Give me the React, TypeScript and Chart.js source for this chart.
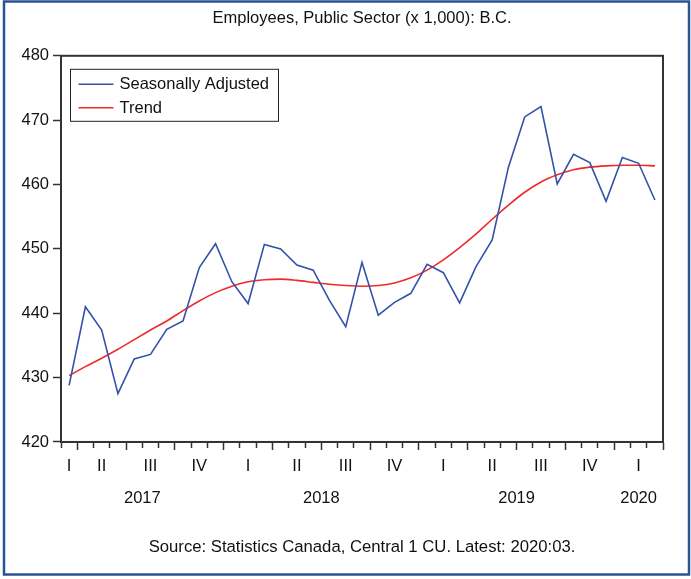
import React, { useEffect, useRef } from 'react';
import { Chart, registerables } from 'chart.js';

Chart.register(...registerables);

const FONT = "'Liberation Sans', Arial, sans-serif";

const months = [
  '2017-03', '2017-04', '2017-05', '2017-06', '2017-07', '2017-08', '2017-09', '2017-10', '2017-11', '2017-12',
  '2018-01', '2018-02', '2018-03', '2018-04', '2018-05', '2018-06', '2018-07', '2018-08', '2018-09', '2018-10', '2018-11', '2018-12',
  '2019-01', '2019-02', '2019-03', '2019-04', '2019-05', '2019-06', '2019-07', '2019-08', '2019-09', '2019-10', '2019-11', '2019-12',
  '2020-01', '2020-02', '2020-03',
];

const seasonallyAdjusted = [
  428.8, 441.0, 437.4, 427.5, 432.9, 433.6, 437.5, 438.8, 447.1, 450.8,
  444.9, 441.5, 450.7, 450.0, 447.5, 446.7, 442.0, 437.9, 447.9, 439.7, 441.7, 443.1,
  447.6, 446.3, 441.6, 447.2, 451.4, 462.7, 470.5, 472.1, 460.1, 464.7, 463.4, 457.4,
  464.2, 463.3, 457.6,
];

const trend = [
  430.3, 431.7, 433.0, 434.4, 435.9, 437.4, 438.8, 440.4, 441.9, 443.2,
  444.2, 444.9, 445.2, 445.3, 445.1, 444.8, 444.5, 444.3, 444.2, 444.3, 444.7, 445.5,
  446.7, 448.3, 450.2, 452.3, 454.6, 456.8, 458.8, 460.4, 461.5, 462.3, 462.7, 462.9,
  463.0, 463.0, 462.9,
];

const yTickValues = [420, 430, 440, 450, 460, 470, 480];
const quarterNames = ['I', 'II', 'III', 'IV'];
const seriesNames = ['Seasonally Adjusted', 'Trend'];
const seriesColors = ['#3352a8', '#f02a2a'];
const titleText = 'Employees, Public Sector (x 1,000): B.C.';
const sourceText = 'Source: Statistics Canada, Central 1 CU. Latest: 2020:03.';

const monthNum = (m: string) => parseInt(m.slice(5), 10);
const yearOf = (m: string) => m.slice(0, 4);
const quarterOf = (m: string) => Math.floor((monthNum(m) - 1) / 3);
const isQuarterStart = (mn: number) => mn === 1 || mn === 4 || mn === 7 || mn === 10;

function groupCenters(keyFn: (m: string) => string, labelFn: (m: string) => string) {
  const order: string[] = [];
  const groups: Record<string, { label: string; sum: number; count: number }> = {};
  months.forEach((m, i) => {
    const k = keyFn(m);
    if (!groups[k]) {
      groups[k] = { label: labelFn(m), sum: 0, count: 0 };
      order.push(k);
    }
    groups[k].sum += i;
    groups[k].count += 1;
  });
  return order.map((k) => ({ value: groups[k].sum / groups[k].count, label: groups[k].label }));
}

const quarterMarks = groupCenters((m) => yearOf(m) + 'Q' + quarterOf(m), (m) => quarterNames[quarterOf(m)]);
const yearMarks = groupCenters(yearOf, yearOf);
const boundaryMarks = [
  ...months.map((m, i) => ({ value: i - 0.5, long: isQuarterStart(monthNum(m)) })),
  { value: months.length - 0.5, long: isQuarterStart((monthNum(months[months.length - 1]) % 12) + 1) },
];
const isLongBoundary = (v: number) => boundaryMarks.some((b) => Math.abs(b.value - v) < 1e-6 && b.long);

const backgroundPlugin = {
  id: 'bgFrame',
  beforeDraw(chart: any) {
    const { ctx, width, height } = chart;
    ctx.save();
    ctx.fillStyle = '#ffffff';
    ctx.fillRect(0, 0, width, height);
    ctx.strokeStyle = '#2a5593';
    ctx.lineWidth = 2.5;
    ctx.strokeRect(4, 1.5, width - 6, height - 6);
    ctx.restore();
  },
};

const plotFramePlugin = {
  id: 'plotFrame',
  afterDraw(chart: any) {
    const { ctx, chartArea } = chart;
    ctx.save();
    ctx.strokeStyle = '#333333';
    ctx.lineWidth = 2;
    ctx.strokeRect(chartArea.left, chartArea.top, chartArea.right - chartArea.left, chartArea.bottom - chartArea.top);
    ctx.restore();
  },
};

const insideLegendPlugin = {
  id: 'insideLegend',
  afterDraw(chart: any) {
    const { ctx, chartArea } = chart;
    const x0 = chartArea.left + 9.5;
    const y0 = chartArea.top + 13.5;
    ctx.save();
    ctx.fillStyle = '#ffffff';
    ctx.fillRect(x0, y0, 208, 52);
    ctx.strokeStyle = '#222222';
    ctx.lineWidth = 1;
    ctx.strokeRect(x0, y0, 208, 52);
    chart.data.datasets.forEach((ds: any, i: number) => {
      const ly = y0 + 15 + i * 23.4;
      ctx.strokeStyle = ds.borderColor;
      ctx.lineWidth = 1.5;
      ctx.beginPath();
      ctx.moveTo(x0 + 8, ly);
      ctx.lineTo(x0 + 43, ly);
      ctx.stroke();
      ctx.fillStyle = '#111111';
      ctx.font = `16.5px ${FONT}`;
      ctx.textBaseline = 'middle';
      ctx.textAlign = 'left';
      ctx.fillText(ds.label, x0 + 49, ly + 0.5);
    });
    ctx.restore();
  },
};

export default function App() {
  const canvasRef = useRef<HTMLCanvasElement | null>(null);

  useEffect(() => {
    if (!canvasRef.current) return;
    const n = months.length;
    const tickFont = { family: FONT, size: 16.5 };
    const chart = new Chart(canvasRef.current, {
      type: 'line',
      data: {
        datasets: [
          {
            label: seriesNames[0],
            data: seasonallyAdjusted.map((v, i) => ({ x: i, y: v })),
            borderColor: seriesColors[0],
            borderWidth: 1.6,
            pointRadius: 0,
            tension: 0,
            xAxisID: 'x',
            yAxisID: 'y',
          },
          {
            label: seriesNames[1],
            data: trend.map((v, i) => ({ x: i, y: v })),
            borderColor: seriesColors[1],
            borderWidth: 1.6,
            pointRadius: 0,
            cubicInterpolationMode: 'monotone',
            xAxisID: 'x',
            yAxisID: 'y',
          },
        ],
      },
      options: {
        animation: false,
        responsive: false,
        maintainAspectRatio: false,
        events: [],
        layout: { padding: { left: 6, right: 28, top: 2, bottom: 8 } },
        plugins: {
          legend: { display: false },
          tooltip: { enabled: false },
          title: {
            display: true,
            text: titleText,
            fullSize: false,
            color: '#111111',
            font: { family: FONT, size: 16.5, weight: 'normal' },
            padding: { top: 7, bottom: 27 },
          },
          subtitle: {
            display: true,
            position: 'bottom',
            text: sourceText,
            fullSize: false,
            color: '#111111',
            font: { family: FONT, size: 16.7, weight: 'normal' },
            padding: { top: 31, bottom: 14 },
          },
        },
        scales: {
          x: {
            type: 'linear',
            position: 'bottom',
            bounds: 'data',
            min: -0.5,
            max: n - 0.5,
            weight: 0,
            afterBuildTicks: (s: any) => {
              s.ticks = boundaryMarks.map((b) => ({ value: b.value }));
            },
            afterFit: (s: any) => {
              s.height = 8;
            },
            ticks: { display: false },
            grid: {
              drawOnChartArea: false,
              drawTicks: true,
              tickLength: 8,
              tickColor: '#333333',
              tickWidth: 1.5,
              tickBorderDash: (ctx: any) => (ctx.tick && isLongBoundary(ctx.tick.value) ? [] : [5, 20]),
            },
            border: { display: true, color: '#333333', width: 2 },
          },
          xq: {
            type: 'linear',
            position: 'bottom',
            bounds: 'data',
            min: -0.5,
            max: n - 0.5,
            weight: 1,
            afterBuildTicks: (s: any) => {
              s.ticks = quarterMarks.map((q) => ({ value: q.value }));
            },
            afterFit: (s: any) => {
              s.height = 24;
            },
            grid: { display: false, drawTicks: false },
            border: { display: false },
            ticks: {
              autoSkip: false,
              maxRotation: 0,
              padding: 7,
              color: '#111111',
              font: tickFont,
              callback: (_v: any, i: number) => (quarterMarks[i] ? quarterMarks[i].label : ''),
            },
          },
          xy: {
            type: 'linear',
            position: 'bottom',
            bounds: 'data',
            min: -0.5,
            max: n - 0.5,
            weight: 2,
            afterBuildTicks: (s: any) => {
              s.ticks = yearMarks.map((q) => ({ value: q.value }));
            },
            afterFit: (s: any) => {
              s.height = 32;
            },
            grid: { display: false, drawTicks: false },
            border: { display: false },
            ticks: {
              autoSkip: false,
              maxRotation: 0,
              padding: 15,
              color: '#111111',
              font: tickFont,
              callback: (_v: any, i: number) => (yearMarks[i] ? yearMarks[i].label : ''),
            },
          },
          y: {
            type: 'linear',
            position: 'left',
            min: yTickValues[0],
            max: yTickValues[yTickValues.length - 1],
            afterBuildTicks: (s: any) => {
              s.ticks = yTickValues.map((v) => ({ value: v }));
            },
            afterFit: (s: any) => {
              s.width = 55;
            },
            grid: {
              drawOnChartArea: false,
              drawTicks: true,
              tickLength: 8,
              tickColor: '#333333',
              tickWidth: 1.5,
            },
            border: { display: true, color: '#333333', width: 2 },
            ticks: {
              padding: 4,
              color: '#111111',
              font: tickFont,
              callback: (v: any) => String(v),
            },
          },
        },
      },
      plugins: [backgroundPlugin, plotFramePlugin, insideLegendPlugin],
    } as any);
    return () => chart.destroy();
  }, []);

  return (
    <div style={{ position: 'absolute', left: 0, top: 0, width: 691, height: 579 }}>
      <canvas ref={canvasRef} width={691} height={579} style={{ display: 'block', width: 691, height: 579 }} />
    </div>
  );
}
